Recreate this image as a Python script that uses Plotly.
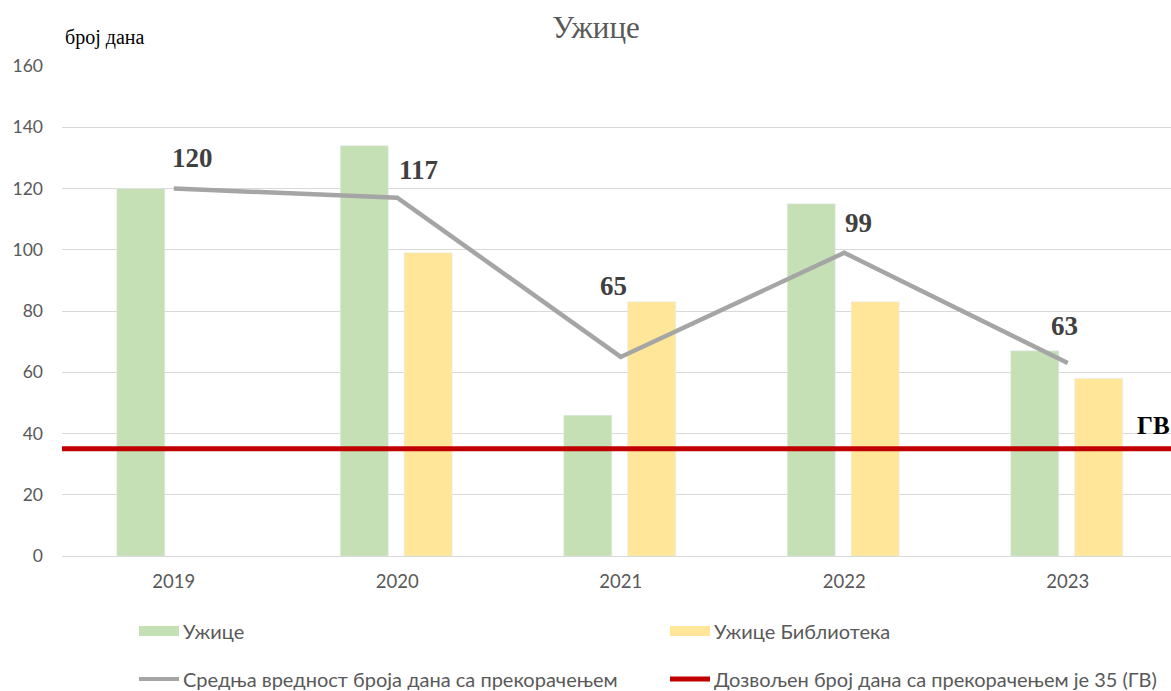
import plotly.graph_objects as go

# Data
years = ["2019", "2020", "2021", "2022", "2023"]
uzice = [120, 134, 46, 115, 67]
uzice_biblioteka = [None, 99, 83, 83, 58]
mean_days = [120, 117, 65, 99, 63]
gv_limit = 35
y_ticks = [0, 20, 40, 60, 80, 100, 120, 140, 160]

series_names = [
    "Ужице",
    "Ужице Библиотека",
    "Средња вредност броја дана са прекорачењем",
    "Дозвољен број дана са прекорачењем је 35 (ГВ)",
]

# Styling
GREEN = "#C5E0B4"
YELLOW = "#FFE699"
GRAY = "#A5A5A5"
RED = "#C00000"
TEXT_GRAY = "#595959"
SANS = "Lato, 'Noto Sans', sans-serif"
SERIF = "'Liberation Serif', 'Times New Roman', serif"

W, H = 1171, 691
L, R, T, B = 62, 0, 66, 135
PW, PH = W - L - R, H - T - B

def px(x):
    return (x - L) / PW

def py(y):
    return (H - B - y) / PH

x_idx = list(range(len(years)))
bar_w = 0.215

fig = go.Figure()
fig.add_trace(go.Bar(
    x=x_idx, y=uzice, name=series_names[0], marker_color=GREEN,
    width=bar_w, offset=-0.255, showlegend=False,
))
fig.add_trace(go.Bar(
    x=x_idx, y=uzice_biblioteka, name=series_names[1], marker_color=YELLOW,
    width=bar_w, offset=0.031, showlegend=False,
))
fig.add_trace(go.Scatter(
    x=x_idx, y=mean_days, name=series_names[2], mode="lines",
    line=dict(color=GRAY, width=4.5), showlegend=False,
))
fig.add_trace(go.Scatter(
    x=[-0.5, 4.6], y=[gv_limit, gv_limit], name=series_names[3], mode="lines",
    line=dict(color=RED, width=5), showlegend=False,
))

# Value labels for the mean line (pixel offsets from each point)
label_shift = [(19, 31), (21, 28), (-7, 71), (14, 30), (-3, 37)]
for xi, v, (dx, dy) in zip(x_idx, mean_days, label_shift):
    fig.add_annotation(
        x=xi, y=v, text=f"<b>{v}</b>", showarrow=False,
        xshift=dx, yshift=dy,
        font=dict(family=SERIF, size=27, color="#404040"),
    )

# Limit value label
fig.add_annotation(
    x=1.0, xref="paper", y=gv_limit, text="<b>ГВ</b>", showarrow=False,
    xanchor="right", yshift=23, xshift=1,
    font=dict(family=SERIF, size=25, color="#000000"),
)

# Axis unit label
fig.add_annotation(
    x=px(63), xref="paper", y=py(38), yref="paper", text="број дана",
    showarrow=False, xanchor="left", yanchor="middle",
    font=dict(family=SERIF, size=20, color="#000000"),
)

# Legend drawn as two rows
legend_items = [
    (139, 631, "rect", GREEN, series_names[0]),
    (670, 631, "rect", YELLOW, series_names[1]),
    (139, 679, "line", GRAY, series_names[2]),
    (670, 679, "line", RED, series_names[3]),
]
for x0, yc, kind, color, label in legend_items:
    if kind == "rect":
        fig.add_shape(type="rect", xref="paper", yref="paper",
                      x0=px(x0), x1=px(x0 + 40), y0=py(yc + 5), y1=py(yc - 5),
                      fillcolor=color, line_width=0)
    else:
        fig.add_shape(type="line", xref="paper", yref="paper",
                      x0=px(x0), x1=px(x0 + 40), y0=py(yc), y1=py(yc),
                      line=dict(color=color, width=4 if color == GRAY else 5))
    fig.add_annotation(
        x=px(x0 + 42), xref="paper", y=py(yc), yref="paper", text=label,
        showarrow=False, xanchor="left", yanchor="middle",
        font=dict(family=SANS, size=20, color=TEXT_GRAY),
    )

fig.update_layout(
    width=W, height=H,
    margin=dict(l=L, r=R, t=T, b=B),
    paper_bgcolor="white", plot_bgcolor="white",
    title=dict(text="Ужице", x=596 / W, xanchor="center",
               y=1 - 27 / H, yanchor="middle",
               font=dict(family=SERIF, size=31, color=TEXT_GRAY)),
    showlegend=False,
    barmode="overlay",
)
fig.update_xaxes(
    range=[-0.5, -0.5 + PW / 223.5],
    tickvals=x_idx, ticktext=years,
    showgrid=False, zeroline=False, showline=False,
    ticks="", ticklabelstandoff=12,
    tickfont=dict(family=SANS, size=18.5, color=TEXT_GRAY),
)
fig.update_yaxes(
    range=[0, 160], tickvals=y_ticks,
    showgrid=True, gridcolor="#D9D9D9", gridwidth=1,
    zeroline=True, zerolinecolor="#D9D9D9", zerolinewidth=1,
    showline=False, ticks="", ticklabelstandoff=18,
    tickfont=dict(family=SANS, size=17.5, color=TEXT_GRAY),
)

fig.write_html("out.html")
